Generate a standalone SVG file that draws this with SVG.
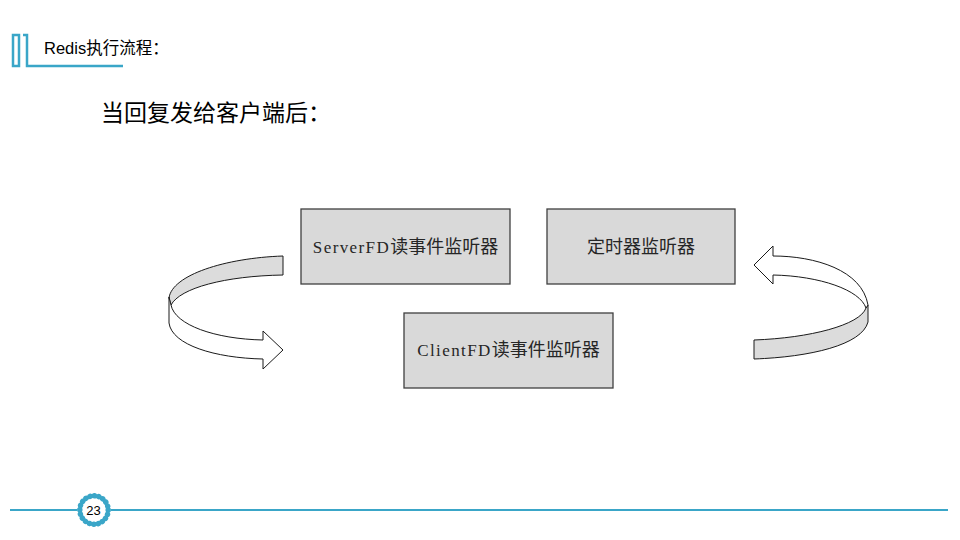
<svg xmlns="http://www.w3.org/2000/svg" width="960" height="540" viewBox="0 0 960 540">
<style>
.box{fill:#d9d9d9;stroke:#3f3f3f;stroke-width:1.3}
.lbl{font-family:"Liberation Serif","Noto Sans CJK SC",serif;font-size:17px;fill:#262626;text-anchor:middle}
.lat{letter-spacing:1.4px}
.cjk{font-family:"Noto Sans CJK SC","Liberation Sans",sans-serif;font-size:18px;letter-spacing:0}
.back{fill:#dcdcdc;stroke:#1a1a1a;stroke-width:1;stroke-linejoin:round}
.front{fill:#ffffff;stroke:#1a1a1a;stroke-width:1;stroke-linejoin:round}
.teal{stroke:#3aa6c8;fill:none}
</style>
<rect width="960" height="540" fill="#ffffff"/>
<g id="header">
<path class="teal" stroke-width="2.5" d="M13,66 V35 H19 V66 Z M23,35 H27 V66 H123"/>
<text x="44" y="54" font-family="Liberation Sans,Noto Sans CJK SC,sans-serif" font-size="16.5" fill="#000">Redis执行流程：</text>
</g>
<g id="title">
<text x="101" y="121" font-family="Noto Sans CJK SC,sans-serif" font-size="23" fill="#000">当回复发给客户端后：</text>
</g>
<g id="server">
<rect class="box" x="301" y="209" width="209" height="75"/>
<text class="lbl" x="405.5" y="252.5"><tspan class="lat">ServerFD</tspan><tspan class="cjk">读事件监听器</tspan></text>
</g>
<g id="timer">
<rect class="box" x="547" y="209" width="188" height="75"/>
<text class="lbl" x="641" y="252.5"><tspan class="cjk">定时器监听器</tspan></text>
</g>
<g id="client">
<rect class="box" x="404" y="313" width="209" height="75"/>
<text class="lbl" x="508.5" y="356"><tspan class="lat">ClientFD</tspan><tspan class="cjk">读事件监听器</tspan></text>
</g>
<g id="connectors">
<g id="left-arrow">
<path class="back" d="M283,256 C225,258 172,275 169,298 L171,305 C180,288 225,276 283,275 Z"/>
<path class="front" d="M169,297 L169,323 C172,345 215,358 263,359 L263,369 L283,350 L263,331 L263,340 C215,339 175,325 171,305 Z"/>
</g>
<g id="right-arrow">
<path class="back" d="M868,305 L868,322 C862,345 810,357 754,359 L754,340 C810,338 860,325 866,308 Z"/>
<path class="front" d="M773,256 C815,256 862,270 868,305 L866,308 C860,290 820,276 773,275 L773,284 L754,265 L773,246 Z"/>
</g>
</g>
<g id="footer">
<line class="teal" stroke-width="2" x1="10" y1="510" x2="77" y2="510"/>
<line class="teal" stroke-width="2" x1="111" y1="510" x2="948" y2="510"/>
<circle cx="94" cy="510" r="14" fill="#ffffff" stroke="#3aa6c8" stroke-width="3"/>
<circle cx="94" cy="510" r="14.2" fill="none" stroke="#3aa6c8" stroke-width="5.5" stroke-linecap="round" stroke-dasharray="0.01 4.4506"/>
<circle cx="94" cy="510" r="11" fill="#ffffff"/>
<text x="93.5" y="514.5" font-family="Liberation Sans,sans-serif" font-size="13" fill="#000" text-anchor="middle">23</text>
</g>
</svg>
